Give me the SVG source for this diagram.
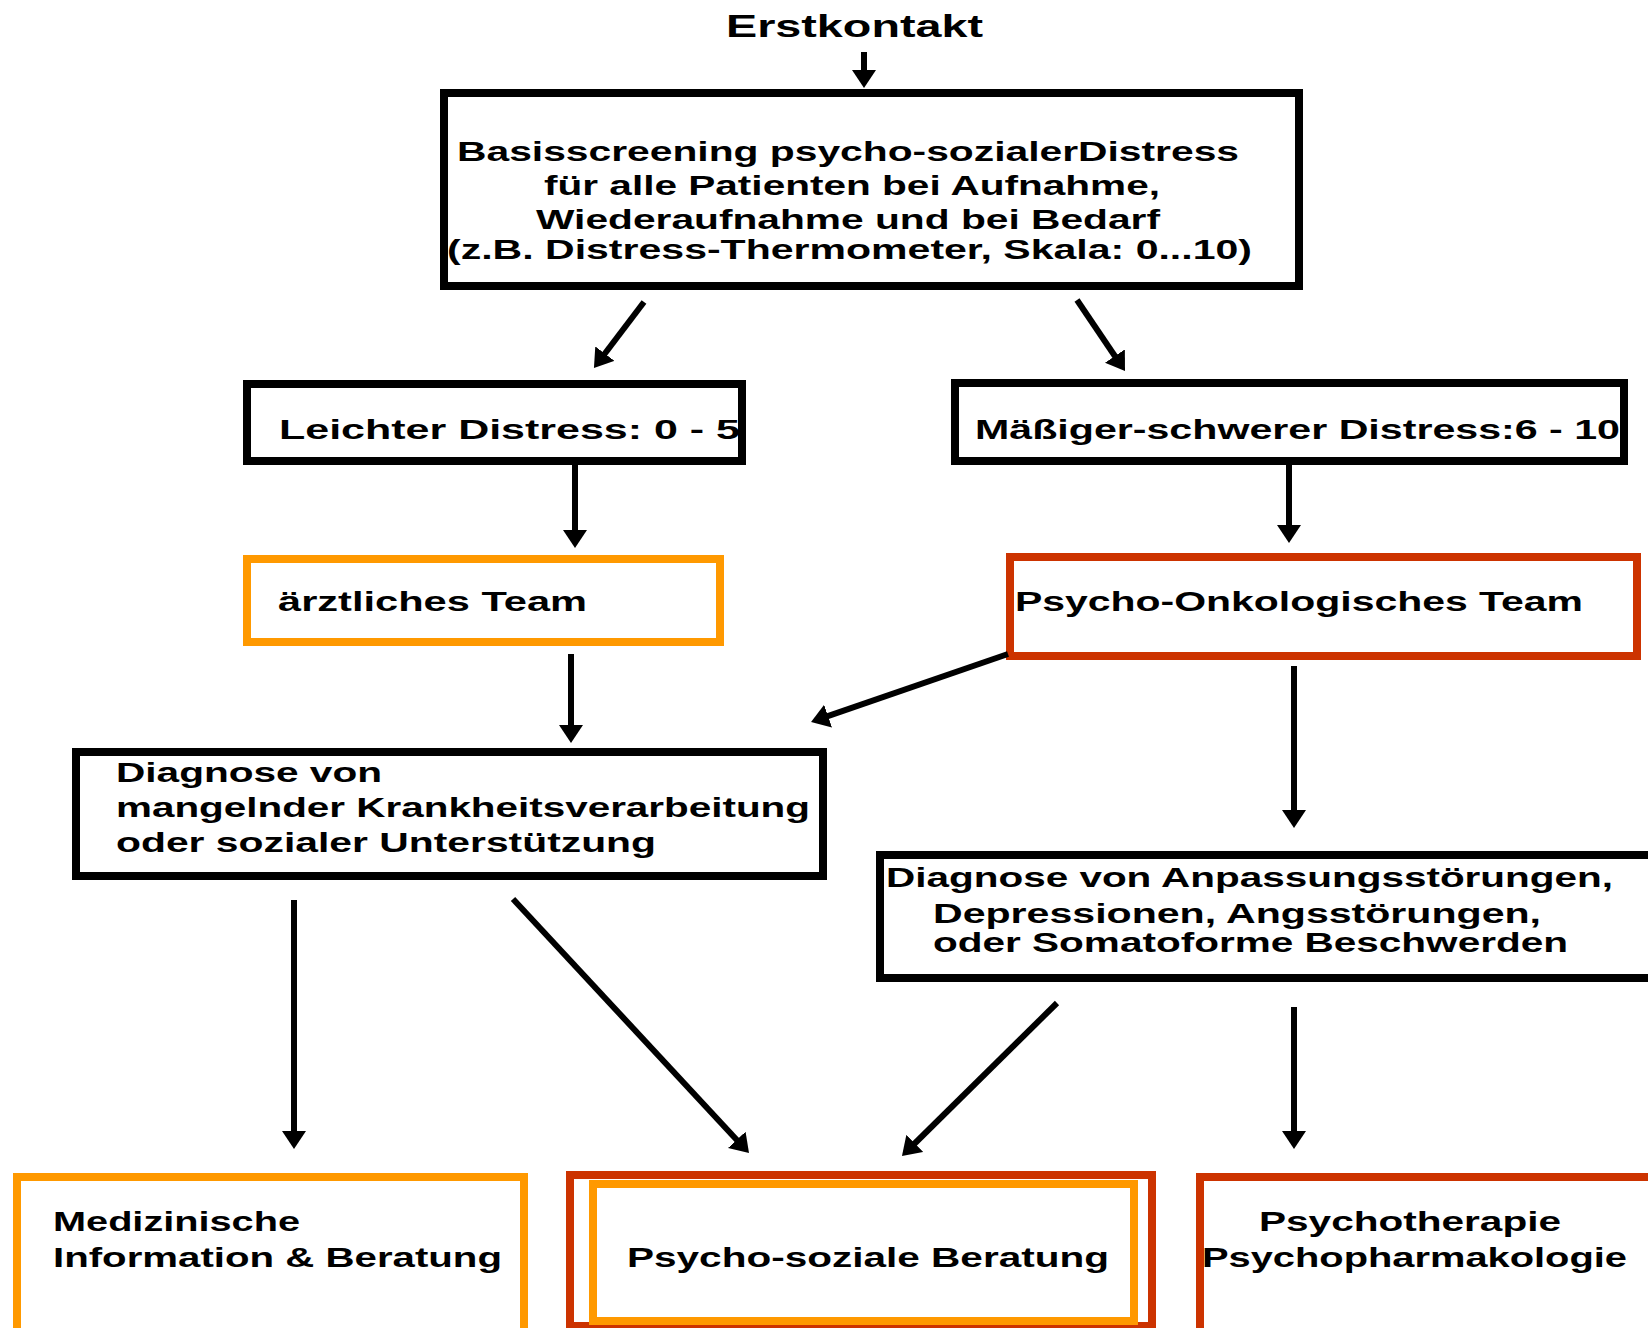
<svg xmlns="http://www.w3.org/2000/svg" width="1648" height="1328" viewBox="0 0 1648 1328">
<style>
text{font-family:"Liberation Sans",Arial,sans-serif;font-weight:bold;fill:#000}
.box{fill:#fff;stroke:#000;stroke-width:8}
.or{fill:#fff;stroke:#FF9900;stroke-width:8}
.rd{fill:#fff;stroke:#CC3300;stroke-width:8}
.c line{stroke:#000;stroke-width:6;marker-end:url(#ah)}
</style>
<defs>
<marker id="ah" markerUnits="userSpaceOnUse" markerWidth="18" markerHeight="24" refX="8" refY="12" orient="auto">
<path d="M0,0 L18,12 L0,24 z" fill="#000"/>
</marker>
</defs>
<rect width="1648" height="1328" fill="#fff"/>
<g id="erstkontakt"><text x="726" y="37" font-size="32" textLength="257" lengthAdjust="spacingAndGlyphs">Erstkontakt</text></g>
<g id="basisscreening">
<rect class="box" x="444" y="93" width="855" height="193"/>
<text x="457" y="161" font-size="27" textLength="782" lengthAdjust="spacingAndGlyphs">Basisscreening psycho-sozialerDistress</text>
<text x="544" y="195" font-size="27" textLength="616" lengthAdjust="spacingAndGlyphs">für alle Patienten bei Aufnahme,</text>
<text x="536" y="229" font-size="27" textLength="624" lengthAdjust="spacingAndGlyphs">Wiederaufnahme und bei Bedarf</text>
<text x="447" y="259" font-size="27" textLength="805" lengthAdjust="spacingAndGlyphs">(z.B. Distress-Thermometer, Skala: 0...10)</text>
</g>
<g id="leicht">
<rect class="box" x="247" y="384" width="495" height="77"/>
<text x="279" y="439" font-size="28" textLength="461" lengthAdjust="spacingAndGlyphs">Leichter  Distress: 0 -  5</text>
</g>
<g id="maessig">
<rect class="box" x="955" y="383" width="669" height="78"/>
<text x="975" y="439" font-size="28" textLength="645" lengthAdjust="spacingAndGlyphs">Mäßiger-schwerer Distress:6 - 10</text>
</g>
<g id="aerztlich">
<rect class="or" x="247" y="559" width="473" height="83"/>
<text x="278" y="611" font-size="27" textLength="309" lengthAdjust="spacingAndGlyphs">ärztliches Team</text>
</g>
<g id="psychoonko">
<rect class="rd" x="1010" y="557" width="627" height="99"/>
<text x="1015" y="611" font-size="27" textLength="568" lengthAdjust="spacingAndGlyphs">Psycho-Onkologisches Team</text>
</g>
<g id="diag-links">
<rect class="box" x="76" y="752" width="747" height="124"/>
<text x="116" y="782" font-size="28" textLength="266" lengthAdjust="spacingAndGlyphs">Diagnose von</text>
<text x="116" y="817" font-size="28" textLength="694" lengthAdjust="spacingAndGlyphs">mangelnder Krankheitsverarbeitung</text>
<text x="116" y="852" font-size="28" textLength="540" lengthAdjust="spacingAndGlyphs">oder sozialer Unterstützung</text>
</g>
<g id="diag-rechts">
<rect class="box" x="880" y="855" width="800" height="123"/>
<text x="886" y="887" font-size="28" textLength="727" lengthAdjust="spacingAndGlyphs">Diagnose von Anpassungsstörungen,</text>
<text x="933" y="923" font-size="28" textLength="608" lengthAdjust="spacingAndGlyphs">Depressionen, Angsstörungen,</text>
<text x="933" y="952" font-size="28" textLength="635" lengthAdjust="spacingAndGlyphs">oder Somatoforme Beschwerden</text>
</g>
<g id="medizinisch">
<rect class="or" x="17" y="1177" width="507" height="160"/>
<text x="53" y="1231" font-size="28" textLength="247" lengthAdjust="spacingAndGlyphs">Medizinische</text>
<text x="53" y="1267" font-size="28" textLength="449" lengthAdjust="spacingAndGlyphs">Information &amp; Beratung</text>
</g>
<g id="psychosozial">
<rect class="rd" x="570" y="1175" width="582" height="151"/>
<rect class="or" x="593" y="1184" width="541" height="137"/>
<text x="627" y="1267" font-size="28" textLength="482" lengthAdjust="spacingAndGlyphs">Psycho-soziale Beratung</text>
</g>
<g id="psychotherapie">
<rect class="rd" x="1200" y="1177" width="500" height="160"/>
<text x="1259" y="1231" font-size="28" textLength="302" lengthAdjust="spacingAndGlyphs">Psychotherapie</text>
<text x="1202" y="1267" font-size="28" textLength="425" lengthAdjust="spacingAndGlyphs">Psychopharmakologie</text>
</g>
<g id="connectors" class="c">
<line x1="864" y1="52" x2="864" y2="78"/>
<line x1="644" y1="302" x2="600" y2="360"/>
<line x1="1077" y1="300" x2="1119.4" y2="362.7"/>
<line x1="575" y1="465" x2="575" y2="538"/>
<line x1="1289" y1="465" x2="1289" y2="533"/>
<line x1="571" y1="654" x2="571" y2="733"/>
<line x1="1008" y1="654" x2="820.5" y2="718.7"/>
<line x1="1294" y1="666" x2="1294" y2="818"/>
<line x1="294" y1="900" x2="294" y2="1139"/>
<line x1="513" y1="899" x2="742.2" y2="1145.7"/>
<line x1="1057" y1="1003" x2="909.1" y2="1149"/>
<line x1="1294" y1="1007" x2="1294" y2="1139"/>
</g>
</svg>
